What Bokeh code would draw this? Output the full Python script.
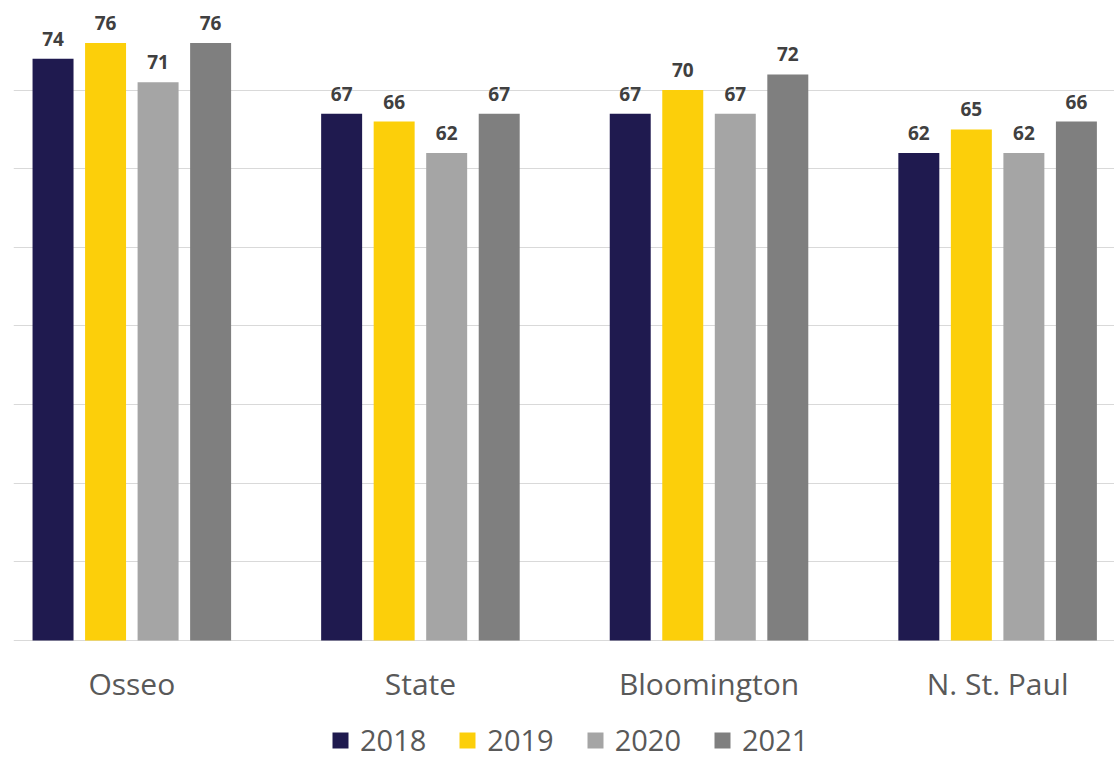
from bokeh.plotting import figure
from bokeh.models import ColumnDataSource, FixedTicker, Legend, LegendItem, Range1d
from bokeh.transform import dodge
from bokeh.core.properties import value
from bokeh.embed import file_html
from bokeh.resources import INLINE

groups = ["Osseo", "State", "Bloomington", "N. St. Paul"]
years = ["2018", "2019", "2020", "2021"]
v2018 = [74, 67, 67, 62]
v2019 = [76, 66, 70, 65]
v2020 = [71, 62, 67, 62]
v2021 = [76, 67, 72, 66]
colors = ["#1f1a4f", "#fccf0a", "#a5a5a5", "#7f7f7f"]
grid_ticks = [0, 10, 20, 30, 40, 50, 60, 70, 80]

idx = list(range(len(groups)))
src = ColumnDataSource(dict(x=idx, g=groups, zero=[0] * len(groups),
                            v2018=v2018, v2019=v2019, v2020=v2020, v2021=v2021,
                            l2018=[str(v) for v in v2018], l2019=[str(v) for v in v2019],
                            l2020=[str(v) for v in v2020], l2021=[str(v) for v in v2021]))

FONT = "Open Sans"
# frame spans whole height below the top margin; the value axis runs 0..80 in the upper part,
# the lower part holds the category labels and the legend
p = figure(width=1114, height=761, output_backend="svg", toolbar_location=None,
           x_range=Range1d(-0.41, 3.405), y_range=Range1d(-15.39, 80),
           min_border_left=13, min_border_right=0, min_border_top=11, min_border_bottom=0)
p.outline_line_color = None
p.background_fill_color = "white"
p.border_fill_color = "white"

offsets = [-0.273, -0.091, 0.091, 0.273]
items = []
for yr, off, col in zip(years, offsets, colors):
    r = p.vbar(x=dodge("x", off, range=p.x_range), top="v" + yr, bottom=0, width=0.142,
               source=src, fill_color=col, line_color=None)
    p.text(x=dodge("x", off, range=p.x_range), y="v" + yr, text="l" + yr, source=src,
           text_align="center", text_baseline="bottom", y_offset=-13,
           text_font=value(FONT), text_font_style="bold", text_font_size="19px",
           text_color="#404040")
    items.append(LegendItem(label=yr, renderers=[r]))

# category labels under the baseline
p.text(x="x", y="zero", text="g", source=src, text_align="center", text_baseline="middle",
       y_offset=43, text_font=value(FONT), text_font_size="30px", text_color="#595959")

p.xaxis.visible = False
p.yaxis.visible = False
p.ygrid.ticker = FixedTicker(ticks=grid_ticks)
p.ygrid.grid_line_color = "#d9d9d9"
p.ygrid.grid_line_width = 1
p.xgrid.grid_line_color = None

legend = Legend(items=items, orientation="horizontal", location=(317, 2),
                label_text_font=FONT, label_text_font_size="29px", label_text_color="#595959",
                glyph_width=20, glyph_height=20, label_standoff=10, spacing=31,
                border_line_color=None, background_fill_alpha=0, padding=0, margin=0)
p.add_layout(legend, "center")

open("out.html", "w").write(file_html(p, INLINE))
